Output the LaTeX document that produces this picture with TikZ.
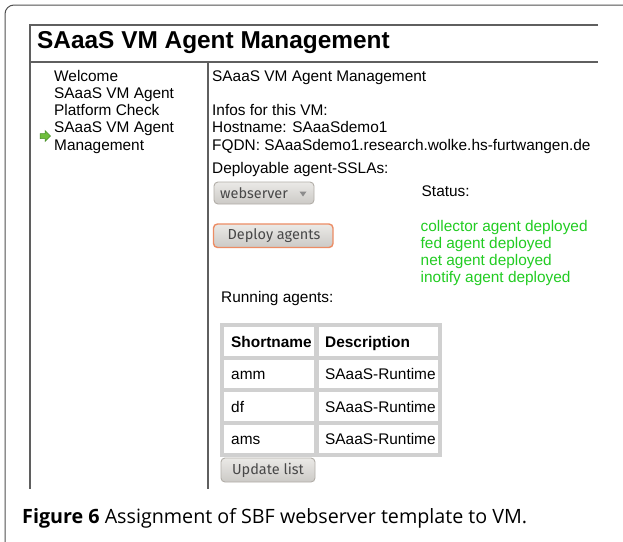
\documentclass[tikz,border=0pt]{standalone}
\usepackage{fontspec}
\setmainfont{Liberation Sans}
\newfontfamily\uifont{Fira Sans}
\newfontfamily\capfont{Open Sans}
\definecolor{framegray}{RGB}{80,80,80}
\definecolor{linegray}{RGB}{95,95,95}
\definecolor{okgreen}{RGB}{34,204,34}
\definecolor{cellgray}{RGB}{208,208,208}
\definecolor{btnfill}{RGB}{226,224,220}
\definecolor{btnline}{RGB}{178,174,168}
\definecolor{btntext}{RGB}{72,72,72}
\definecolor{deployline}{RGB}{236,140,100}
\definecolor{arrowfill}{RGB}{110,190,60}
\definecolor{arrowline}{RGB}{70,140,40}
\begin{document}
\begin{tikzpicture}[x=1pt,y=-1pt,
  txt/.style={anchor=base west,inner sep=0pt,font=\fontsize{15.4}{17}\selectfont},
  greentxt/.style={txt,text=okgreen},
  boldtxt/.style={anchor=base west,inner sep=0pt,font=\fontsize{15.4}{17}\selectfont\bfseries},
  uiline/.style={draw=linegray,line width=1.6pt},
  cell/.style={fill=white},
  button/.style={draw=btnline,line width=0.9pt,rounded corners=4pt,top color=btnfill!70!white,bottom color=btnfill!90!black},
  btnlabel/.style={inner sep=0pt,font=\uifont\fontsize{14.5}{16}\selectfont,text=btntext}]
\useasboundingbox (0,0) rectangle (623,541);
\fill[white] (0,0) rectangle (623,541);

% rounded frame of the figure
\draw[framegray,line width=1pt,rounded corners=9pt] (5,560) -- (5,5) -- (640,5);

% page outline: header band and the two columns
\draw[uiline] (598,25) -- (30,25) -- (30,489);
\draw[uiline] (30,62) -- (598,62);
\draw[uiline] (208,62) -- (208,489);
\node[anchor=base west,inner sep=0pt,font=\fontsize{24.4}{28}\selectfont\bfseries] (title) at (37,48.5) {SAaaS VM Agent Management};

% navigation column
\node[txt] (nav1) at (54,81) {Welcome};
\node[txt] (nav2) at (54,98.3) {SAaaS VM Agent};
\node[txt] (nav3) at (54,115.6) {Platform Check};
\node[txt] (nav4) at (54,132.9) {SAaaS VM Agent};
\node[txt] (nav5) at (54,150.2) {Management};
\filldraw[fill=arrowfill,draw=arrowline,line width=0.5pt]
  (40,133.5) -- (45,133.5) -- (45,130.5) -- (50.5,136) -- (45,141.5) -- (45,138.5) -- (40,138.5) -- cycle;

% main column
\node[txt] (head) at (212,81) {SAaaS VM Agent Management};
\node[txt] (infos) at (212,115.6) {Infos for this VM:};
\node[txt] (host) at (212,132.9) {Hostname: SAaaSdemo1};
\node[txt] (fqdn) at (212,150.2) {FQDN: SAaaSdemo1.research.wolke.hs-furtwangen.de};
\node[txt] (deplbl) at (212,173) {Deployable agent-SSLAs:};

% drop-down list
\path[button] (214,182) rectangle (314,204);
\node[btnlabel,anchor=west] (sel) at (220,193.5) {webserver};
\fill[black!45] (299.5,191.5) -- (306.5,191.5) -- (303,196.5) -- cycle;

% deploy button
\path[button,draw=deployline,line width=1.4pt] (213.5,224) rectangle (333,247.5);
\node[btnlabel] (deploy) at (274,236) {Deploy agents};

% status messages
\node[txt] (status) at (421.5,196.5) {Status:};
\node[greentxt] (st1) at (420.5,231) {collector agent deployed};
\node[greentxt] (st2) at (420.5,248) {fed agent deployed};
\node[greentxt] (st3) at (420.5,265) {net agent deployed};
\node[greentxt] (st4) at (420.5,282) {inotify agent deployed};

% table of running agents
\node[txt] (running) at (221,302) {Running agents:};
\fill[cellgray] (220,323) rectangle (442,457);
\foreach \ya/\yb in {327/356,360/388,392/421,425/453}{
  \fill[cell] (224,\ya) rectangle (314,\yb);
  \fill[cell] (318.5,\ya) rectangle (438,\yb);
}
\node[boldtxt] (hshort) at (231,347) {Shortname};
\node[boldtxt] (hdesc) at (325,347) {Description};
\node[txt] (r1a) at (231,379.5) {amm};
\node[txt] (r1b) at (325,379.5) {SAaaS-Runtime};
\node[txt] (r2a) at (231,412) {df};
\node[txt] (r2b) at (325,412) {SAaaS-Runtime};
\node[txt] (r3a) at (231,444.5) {ams};
\node[txt] (r3b) at (325,444.5) {SAaaS-Runtime};

% update button
\path[button] (221,458) rectangle (315,482);
\node[btnlabel] (update) at (268,470) {Update list};

% figure caption
\node[anchor=base west,inner sep=0pt,font=\capfont\fontsize{19.7}{22}\selectfont] (caption) at (22,523.5)
  {\textbf{Figure 6} Assignment of SBF webserver template to VM.};
\end{tikzpicture}
\end{document}
